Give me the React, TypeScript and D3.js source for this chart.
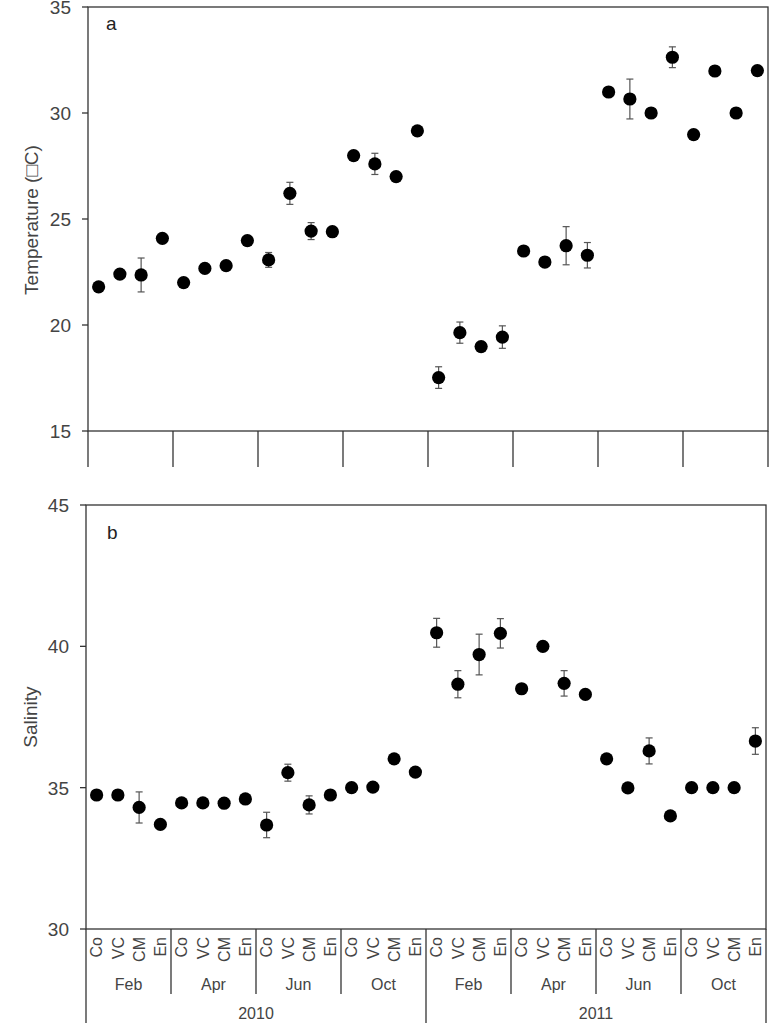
import React from "react";
import * as d3 from "d3";

const sites = ["Co", "VC", "CM", "En"];
const months = ["Feb", "Apr", "Jun", "Oct"];
const years = ["2010", "2011"];

const temperature = [
  21.8, 22.4, 22.36, 24.09,
  22.0, 22.67, 22.8, 23.98,
  23.07, 26.21, 24.43, 24.4,
  27.99, 27.6, 27.0, 29.16,
  17.52, 19.64, 18.98, 19.43,
  23.49, 22.97, 23.74, 23.29,
  30.99, 30.66, 30.0, 32.63,
  28.98, 31.98, 30.0, 32.0,
];
const temperatureErr = [
  0, 0, 0.8, 0,
  0, 0, 0, 0,
  0.35, 0.52, 0.4, 0,
  0, 0.5, 0, 0,
  0.51, 0.5, 0, 0.53,
  0, 0, 0.9, 0.6,
  0, 0.94, 0, 0.49,
  0, 0, 0, 0,
];
const salinity = [
  34.74, 34.74, 34.3, 33.7,
  34.46, 34.46, 34.45, 34.6,
  33.68, 35.53, 34.39, 34.74,
  35.0, 35.02, 36.02, 35.55,
  40.48, 38.66, 39.71, 40.46,
  38.5, 40.0, 38.69, 38.3,
  36.02, 34.99, 36.3, 34.0,
  35.0, 35.0, 35.0, 36.65,
];
const salinityErr = [
  0, 0, 0.55, 0,
  0, 0, 0, 0,
  0.45, 0.3, 0.32, 0,
  0, 0, 0, 0,
  0.51, 0.48, 0.72, 0.52,
  0, 0, 0.45, 0,
  0, 0, 0.46, 0,
  0, 0, 0, 0.47,
];
const tempTicks = [15, 20, 25, 30, 35];
const salTicks = [30, 35, 40, 45];

const keys: string[] = [];
years.forEach((y) => months.forEach((m) => sites.forEach((s) => keys.push(`${y}-${m}-${s}`))));
const groups: string[] = [];
years.forEach((y) => months.forEach((m) => groups.push(`${y}-${m}`)));

const FONT = "'Liberation Sans', Arial, sans-serif";
const AXIS = "#333";
const TXT = "#444";

type PanelProps = {
  values: number[];
  errs: number[];
  domain: [number, number];
  ticks: number[];
  x0: number;
  x1: number;
  yTop: number;
  yBot: number;
  letter: string;
  letterPos: [number, number];
  yLabel: string;
  yLabelPos: [number, number];
};

function Panel(p: PanelProps) {
  const x = d3.scaleBand<string>().domain(keys).range([p.x0, p.x1]);
  const y = d3.scaleLinear().domain(p.domain).range([p.yBot, p.yTop]);
  const bw = x.bandwidth();
  return (
    <g>
      <rect x={p.x0} y={p.yTop} width={p.x1 - p.x0} height={p.yBot - p.yTop} fill="none" stroke={AXIS} strokeWidth={1.3} />
      {p.ticks.map((t) => (
        <g key={t}>
          <line x1={p.x0 - 6} x2={p.x0} y1={y(t)} y2={y(t)} stroke={AXIS} strokeWidth={1.3} />
          <text x={p.x0 - 17} y={y(t)} dy="0.36em" textAnchor="end" fontSize={19} fill={TXT} fontFamily={FONT}>
            {t}
          </text>
        </g>
      ))}
      <text x={p.letterPos[0]} y={p.letterPos[1]} fontSize={19} fill="#222" fontFamily={FONT}>
        {p.letter}
      </text>
      <text
        transform={`translate(${p.yLabelPos[0]},${p.yLabelPos[1]}) rotate(-90)`}
        textAnchor="middle"
        fontSize={19}
        fill={TXT}
        fontFamily={FONT}
      >
        {p.yLabel}
      </text>
      {keys.map((k, i) => {
        const cx = (x(k) as number) + bw / 2;
        const e = p.errs[i];
        return (
          <g key={k}>
            {e > 0 && (
              <g stroke="#555" strokeWidth={1.2}>
                <line x1={cx} x2={cx} y1={y(p.values[i] + e)} y2={y(p.values[i] - e)} />
                <line x1={cx - 3.5} x2={cx + 3.5} y1={y(p.values[i] + e)} y2={y(p.values[i] + e)} />
                <line x1={cx - 3.5} x2={cx + 3.5} y1={y(p.values[i] - e)} y2={y(p.values[i] - e)} />
              </g>
            )}
            <circle cx={cx} cy={y(p.values[i])} r={6.6} fill="#000" />
          </g>
        );
      })}
    </g>
  );
}

export default function App() {
  const gTop = d3.scaleBand<string>().domain(groups).range([88, 768]);
  const gBot = d3.scaleBand<string>().domain(groups).range([86, 766]);
  const xBot = d3.scaleBand<string>().domain(keys).range([86, 766]);
  const yearScale = d3.scaleBand<string>().domain(years).range([86, 766]);
  return (
    <svg width={784} height={1032} style={{ position: "absolute", left: 0, top: 0, background: "#fff" }}>
      <Panel
        values={temperature}
        errs={temperatureErr}
        domain={[15, 35]}
        ticks={tempTicks}
        x0={88}
        x1={768}
        yTop={7}
        yBot={431}
        letter="a"
        letterPos={[106, 30]}
        yLabel="Temperature (□C)"
        yLabelPos={[38, 220]}
      />
      {groups.map((g) => (
        <line key={g} x1={gTop(g)!} x2={gTop(g)!} y1={431} y2={467} stroke={AXIS} strokeWidth={1.3} />
      ))}
      <line x1={768} x2={768} y1={431} y2={467} stroke={AXIS} strokeWidth={1.3} />

      <Panel
        values={salinity}
        errs={salinityErr}
        domain={[30, 45]}
        ticks={salTicks}
        x0={86}
        x1={766}
        yTop={505}
        yBot={929}
        letter="b"
        letterPos={[107, 539]}
        yLabel="Salinity"
        yLabelPos={[37, 717]}
      />
      {keys.map((k, i) => (
        <text
          key={k}
          transform={`translate(${(xBot(k) as number) + xBot.bandwidth() / 2},${937}) rotate(-90)`}
          textAnchor="end"
          dy="0.36em"
          fontSize={16}
          fill={TXT}
          fontFamily={FONT}
        >
          {sites[i % 4]}
        </text>
      ))}
      {groups.map((g, i) => (
        <g key={g}>
          <line x1={gBot(g)!} x2={gBot(g)!} y1={929} y2={i % 4 === 0 ? 1023 : 994} stroke={AXIS} strokeWidth={1.3} />
          <text x={gBot(g)! + gBot.bandwidth() / 2} y={990} textAnchor="middle" fontSize={16} fill={TXT} fontFamily={FONT}>
            {months[i % 4]}
          </text>
        </g>
      ))}
      <line x1={766} x2={766} y1={929} y2={1023} stroke={AXIS} strokeWidth={1.3} />
      {years.map((yr) => (
        <text key={yr} x={yearScale(yr)! + yearScale.bandwidth() / 2} y={1019} textAnchor="middle" fontSize={16} fill={TXT} fontFamily={FONT}>
          {yr}
        </text>
      ))}
    </svg>
  );
}
